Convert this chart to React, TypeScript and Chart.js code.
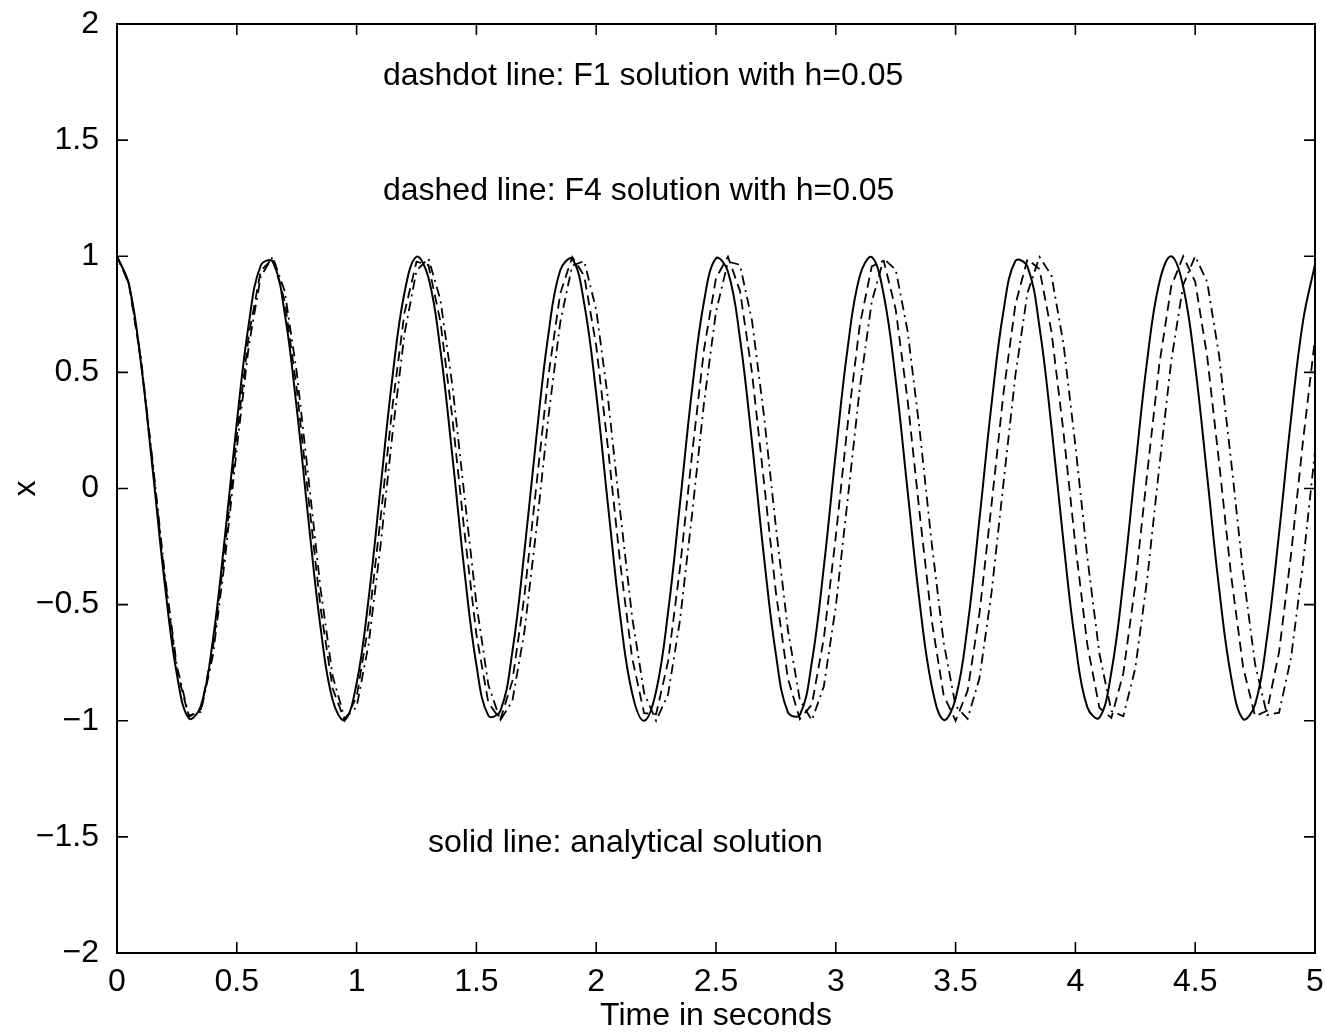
import React, { useEffect, useRef } from 'react';
import { Chart, registerables } from 'chart.js';

Chart.register(...registerables);

// time samples (seconds), h = 0.05
const TIME = [
  0, 0.05, 0.1, 0.15, 0.2, 0.25, 0.3, 0.35, 0.4, 0.45,
  0.5, 0.55, 0.6, 0.65, 0.7, 0.75, 0.8, 0.85, 0.9, 0.95,
  1, 1.05, 1.1, 1.15, 1.2, 1.25, 1.3, 1.35, 1.4, 1.45,
  1.5, 1.55, 1.6, 1.65, 1.7, 1.75, 1.8, 1.85, 1.9, 1.95,
  2, 2.05, 2.1, 2.15, 2.2, 2.25, 2.3, 2.35, 2.4, 2.45,
  2.5, 2.55, 2.6, 2.65, 2.7, 2.75, 2.8, 2.85, 2.9, 2.95,
  3, 3.05, 3.1, 3.15, 3.2, 3.25, 3.3, 3.35, 3.4, 3.45,
  3.5, 3.55, 3.6, 3.65, 3.7, 3.75, 3.8, 3.85, 3.9, 3.95,
  4, 4.05, 4.1, 4.15, 4.2, 4.25, 4.3, 4.35, 4.4, 4.45,
  4.5, 4.55, 4.6, 4.65, 4.7, 4.75, 4.8, 4.85, 4.9, 4.95,
  5,
];

// solid line: analytical solution
const ANALYTICAL = [
  1.0, 0.8776, 0.5403, 0.0707, -0.4161, -0.8011, -0.99, -0.9365, -0.6536, -0.2108,
  0.2837, 0.7087, 0.9602, 0.9766, 0.7539, 0.3466, -0.1455, -0.602, -0.9111, -0.9972,
  -0.8391, -0.4755, 0.0044, 0.4833, 0.8439, 0.9978, 0.9074, 0.5949, 0.1367, -0.3549,
  -0.7597, -0.978, -0.9577, -0.7035, -0.2752, 0.2194, 0.6603, 0.9395, 0.9887, 0.7958,
  0.4081, -0.0796, -0.5477, -0.881, -1.0, -0.8733, -0.5328, -0.0619, 0.4242, 0.8061,
  0.9912, 0.9333, 0.6469, 0.2021, -0.2921, -0.714, -0.9626, -0.975, -0.7481, -0.3383,
  0.1543, 0.609, 0.9147, 0.9965, 0.8342, 0.4677, -0.0133, -0.491, -0.8486, -0.9965,
  -0.9037, -0.5918, -0.128, 0.3632, 0.7654, 0.9802, 0.9551, 0.6961, 0.2666, -0.2281,
  -0.6669, -0.9424, -0.9873, -0.791, -0.3999, 0.0884, 0.5551, 0.8859, 0.9998, 0.869,
  0.5253, 0.053, -0.4322, -0.812, -0.9927, -0.93, -0.6401, -0.1935, 0.3006, 0.7207,
  0.965,
];

// dashed line: F4 solution with h=0.05
const F4_DASHED = [
  1.0, 0.8805, 0.5505, 0.0888, -0.3941, -0.7826, -0.9842, -0.9504, -0.6895, -0.2636,
  0.2251, 0.6601, 0.9374, 0.9905, 0.8068, 0.4306, -0.0492, -0.5169, -0.861, -0.9992,
  -0.8986, -0.5835, -0.1283, 0.3573, 0.7574, 0.9764, 0.9621, 0.7177, 0.3018, -0.1862,
  -0.6287, -0.9228, -0.9952, -0.8296, -0.4657, 0.0095, 0.4824, 0.8401, 0.9968, 0.9153,
  0.6152, 0.1676, -0.3199, -0.7301, -0.9671, -0.9721, -0.7447, -0.3399, 0.1472, 0.5985,
  0.9067, 0.9983, 0.8511, 0.5004, 0.0302, -0.4471, -0.8182, -0.9929, -0.9306, -0.6458,
  -0.2066, 0.2817, 0.7031, 0.9562, 0.9807, 0.7706, 0.3774, -0.1077, -0.5664, -0.8893,
  -0.9998, -0.8713, -0.5344, -0.0698, 0.4115, 0.7943, 0.9874, 0.9444, 0.6755, 0.2452,
  -0.2436, -0.6743, -0.9438, -0.9877, -0.7954, -0.413, 0.0682, 0.533, 0.8704, 0.9998,
  0.8901, 0.5684, 0.1095, -0.3752, -0.7692, -0.9803, -0.9567, -0.7043, -0.2835, 0.2049,
  0.6444,
];

// dashdot line: F1 solution with h=0.05
const F1_DASHDOT = [
  1.0, 0.883, 0.5595, 0.1049, -0.3744, -0.7652, -0.978, -0.9615, -0.7201, -0.3106,
  0.1722, 0.6146, 0.9128, 0.9977, 0.8491, 0.5018, 0.0372, -0.436, -0.8074, -0.9897,
  -0.9407, -0.6713, -0.2449, 0.2387, 0.6665, 0.9385, 0.9908, 0.8113, 0.442, -0.0308,
  -0.4962, -0.8462, -0.9972, -0.9154, -0.6194, -0.1785, 0.304, 0.7157, 0.9597, 0.9793,
  0.7696, 0.3809, -0.0986, -0.5535, -0.8801, -1.0, -0.886, -0.5655, -0.1114, 0.3686,
  0.7614, 0.9766, 0.9633, 0.7245, 0.3164, -0.1659, -0.6082, -0.9105, -0.9981, -0.8524,
  -0.5074, -0.0435, 0.4309, 0.8037, 0.989, 0.9428, 0.676, 0.251, -0.2326, -0.6619,
  -0.9363, -0.9916, -0.815, -0.4474, 0.0244, 0.4909, 0.8423, 0.9967, 0.918, 0.6244,
  0.1848, -0.2981, -0.7104, -0.9579, -0.9806, -0.7737, -0.3869, 0.0923, 0.5487, 0.877,
  0.9999, 0.8889, 0.5708, 0.1177, -0.3624, -0.757, -0.9752, -0.965, -0.729, -0.3225,
  0.1597,
];

const X_TICKS = [0, 0.5, 1, 1.5, 2, 2.5, 3, 3.5, 4, 4.5, 5];
const Y_TICKS = [-2, -1.5, -1, -0.5, 0, 0.5, 1, 1.5, 2];

const NOTE_TEXTS = [
  'dashdot line: F1 solution with h=0.05',
  'dashed line: F4 solution with h=0.05',
  'solid line: analytical solution',
];
// anchor points of the notes (data coordinates)
const NOTE_X = [1.11, 1.11, 1.298];
const NOTE_Y = [1.775, 1.28, -1.525];

const FONT = '"Liberation Sans", Arial, Helvetica, sans-serif';

const toPoints = (ys: number[]) => ys.map((v, i) => ({ x: TIME[i], y: v }));
const fmt = (v: number) => String(v).replace('-', '\u2212');

const framePlugin = {
  id: 'matlabFrame',
  afterDatasetsDraw(chart: any) {
    const { ctx, chartArea, scales } = chart;
    const { left, right, top, bottom } = chartArea;
    const xs = scales.x;
    const ys = scales.y;
    const T = 11;
    ctx.save();
    ctx.strokeStyle = '#000';
    ctx.lineWidth = 2;
    ctx.strokeRect(left, top, right - left, bottom - top);
    ctx.lineWidth = 1.6;
    ctx.beginPath();
    X_TICKS.forEach((v) => {
      const px = xs.getPixelForValue(v);
      ctx.moveTo(px, bottom);
      ctx.lineTo(px, bottom - T);
      ctx.moveTo(px, top);
      ctx.lineTo(px, top + T);
    });
    Y_TICKS.forEach((v) => {
      const py = ys.getPixelForValue(v);
      ctx.moveTo(left, py);
      ctx.lineTo(left + T, py);
      ctx.moveTo(right, py);
      ctx.lineTo(right - T, py);
    });
    ctx.stroke();
    ctx.fillStyle = '#000';
    ctx.font = `32px ${FONT}`;
    ctx.textAlign = 'left';
    ctx.textBaseline = 'middle';
    NOTE_TEXTS.forEach((t, i) => {
      ctx.fillText(t, xs.getPixelForValue(NOTE_X[i]), ys.getPixelForValue(NOTE_Y[i]));
    });
    ctx.restore();
  },
};

export default function App() {
  const ref = useRef<HTMLCanvasElement | null>(null);

  useEffect(() => {
    document.body.style.margin = '0';
    const canvas = ref.current;
    if (!canvas) return;
    const chart = new Chart(canvas, {
      type: 'line',
      data: {
        datasets: [
          {
            label: 'F1 solution (dashdot)',
            data: toPoints(F1_DASHDOT),
            borderColor: '#000',
            borderWidth: 1.8,
            borderDash: [10, 5, 2, 5],
            pointRadius: 0,
            tension: 0,
            fill: false,
          },
          {
            label: 'F4 solution (dashed)',
            data: toPoints(F4_DASHED),
            borderColor: '#000',
            borderWidth: 1.8,
            borderDash: [10, 6],
            pointRadius: 0,
            tension: 0,
            fill: false,
          },
          {
            label: 'analytical solution',
            data: toPoints(ANALYTICAL),
            borderColor: '#000',
            borderWidth: 2,
            pointRadius: 0,
            tension: 0.4,
            fill: false,
          },
        ],
      },
      options: {
        animation: false,
        responsive: false,
        devicePixelRatio: 1,
        events: [],
        layout: { padding: { top: 24, right: 10, left: 0, bottom: 0 } },
        plugins: {
          legend: { display: false },
          tooltip: { enabled: false },
          title: { display: false },
        },
        scales: {
          x: {
            type: 'linear',
            min: 0,
            max: 5,
            grid: { display: false },
            border: { display: false },
            afterFit: (s: any) => { s.height = 79; s.paddingLeft = 0; s.paddingRight = 0; },
            ticks: {
              stepSize: 0.5,
              color: '#000',
              padding: 2,
              maxRotation: 0,
              autoSkip: false,
              font: { family: FONT, size: 32, lineHeight: 1.2 },
              callback: (v: any) => fmt(Number(v)),
            },
            title: {
              display: true,
              text: 'Time in seconds',
              color: '#000',
              font: { family: FONT, size: 32, lineHeight: 1 },
              padding: { top: 0, bottom: 0 },
            },
          },
          y: {
            type: 'linear',
            min: -2,
            max: 2,
            grid: { display: false },
            border: { display: false },
            afterFit: (s: any) => { s.width = 117; s.paddingTop = 0; s.paddingBottom = 0; },
            ticks: {
              stepSize: 0.5,
              color: '#000',
              padding: 10,
              autoSkip: false,
              font: { family: FONT, size: 32 },
              callback: (v: any) => fmt(Number(v)),
            },
            title: {
              display: true,
              text: 'x',
              color: '#000',
              font: { family: FONT, size: 32, lineHeight: 1 },
              padding: { top: 10, bottom: 0 },
            },
          },
        },
      },
      plugins: [framePlugin],
    });
    return () => chart.destroy();
  }, []);

  return (
    <canvas
      ref={ref}
      width={1325}
      height={1032}
      style={{ display: 'block', width: 1325, height: 1032, background: '#fff' }}
    />
  );
}
